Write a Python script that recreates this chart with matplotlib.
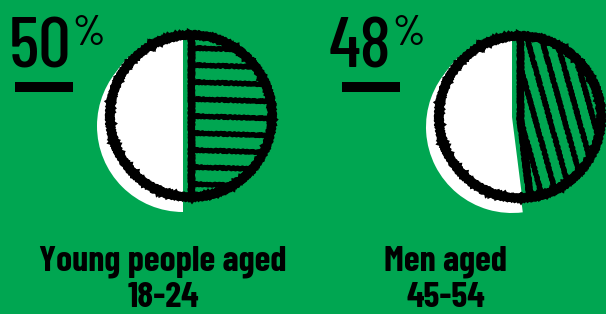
import numpy as np
import matplotlib
matplotlib.use('Agg')
import matplotlib.pyplot as plt
from matplotlib.patches import Wedge, Circle, Rectangle

percents = [50, 48]
label_top = ['Young people aged', 'Men aged']
label_bottom = ['18-24', '45-54']

green = '#00a651'
num_font = ['Barlow Condensed', 'Abel', 'DejaVu Sans']
label_font = ['Barlow Condensed', 'Roboto Condensed', 'DejaVu Sans']

# layout (pixels, y down)
centers = [(191, 116), (520, 117)]
num_x = [9, 329]
bar_x = [15, 342]
label_x = [163, 446]
stroke_dirs = [(1.0, 0.03), (0.28, 1.0)]  # direction of the pen hatching
stroke_gap = [17, 14]

fig = plt.figure(figsize=(6.06, 3.14), dpi=100)
fig.patch.set_facecolor(green)
ax = fig.add_axes([0, 0, 1, 1])
ax.set_xlim(0, 606)
ax.set_ylim(314, 0)
ax.axis('off')
ax.set_facecolor(green)

px = 72 / 100.  # points per pixel


def pie(cx, cy, pct, d, gap):
    ang = 360 * pct / 100.
    start, end = -90, -90 + ang  # clockwise from 12 o'clock (y axis is flipped)
    # white "rest" slice, with a drop shadow offset down-left
    ax.add_patch(Wedge((cx - 8, cy + 10), 86, end, 270, fc='white', ec='none', zorder=1))
    ax.add_patch(Wedge((cx - 8, cy), 80, end, 270, fc='white', ec='none', zorder=2))
    # hatched share
    share = Wedge((cx, cy), 80, start, end, fc=green, ec='none', zorder=2)
    ax.add_patch(share)
    d = np.array(d) / np.hypot(*d)
    n = np.array([-d[1], d[0]])
    for k in range(-7, 8):
        p = np.array([cx, cy]) + k * gap * n
        a, b = p - 110 * d, p + 110 * d
        ln, = ax.plot([a[0], b[0]], [a[1], b[1]], color='black',
                      lw=5 * px, solid_capstyle='round', zorder=3)
        ln.set_clip_path(share)
        ln.set_sketch_params(0.7, 4, 2)
    # edges of the slice
    for t in (start, end):
        ex = cx + 80 * np.cos(np.radians(t))
        ey = cy + 80 * np.sin(np.radians(t))
        ln, = ax.plot([cx, ex], [cy, ey], color='black', lw=7 * px,
                      solid_capstyle='round', zorder=4)
        ln.set_sketch_params(0.7, 4, 2)
    # scribbled outline
    for r, w in ((81, 8), (78, 2), (84.5, 2)):
        ring = Circle((cx, cy), r, fill=False, ec='black', lw=w * px, zorder=5)
        ring.set_sketch_params(0.8, 4, 2)
        ax.add_patch(ring)


fig.canvas.draw()
renderer = fig.canvas.get_renderer()

for i in range(2):
    cx, cy = centers[i]
    pie(cx, cy, percents[i], stroke_dirs[i], stroke_gap[i])

    num = ax.text(num_x[i], 67, str(percents[i]), family=num_font, fontsize=52,
                  fontweight='medium', color='black', ha='left', va='baseline')
    bb = num.get_window_extent(renderer)
    xr = ax.transData.inverted().transform((bb.x1, bb.y0))[0]
    ax.text(xr + 1, 45, '%', family=num_font, fontsize=30, fontweight='medium',
            color='black', ha='left', va='baseline')
    ax.add_patch(Rectangle((bar_x[i], 82), 58, 10, fc='black', ec='none'))

    ax.text(label_x[i], 270, label_top[i], family=label_font, fontsize=26,
            fontweight='bold', stretch='condensed', color='black',
            ha='center', va='baseline')
    ax.text(label_x[i], 307, label_bottom[i], family=label_font, fontsize=26,
            fontweight='bold', stretch='condensed', color='black',
            ha='center', va='baseline')

fig.savefig('out.png', dpi=100, facecolor=green)
